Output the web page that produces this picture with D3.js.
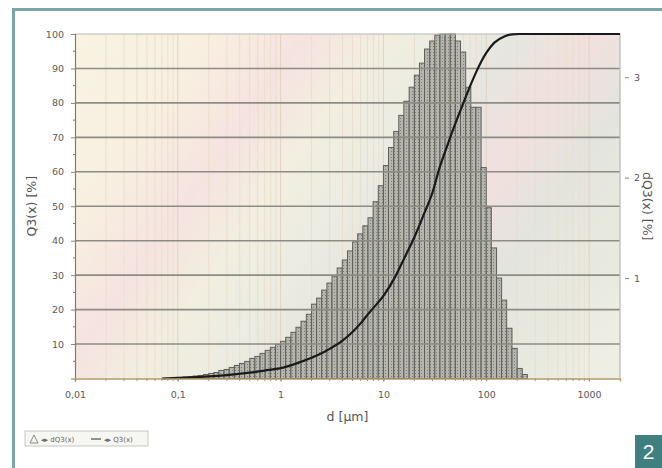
<!DOCTYPE html>
<html>
<head>
<meta charset="utf-8">
<script src="https://cdn.jsdelivr.net/npm/d3@7"></script>
<style>
  html, body { margin: 0; padding: 0; background: #fff; }
  svg { display: block; }
</style>
</head>
<body>
<svg id="chart" width="662" height="468"></svg>
<script>
// ── data ────────────────────────────────────────────────────────────────
// histogram bin edges (µm), log spaced
const binEdges = [
  0.100,0.112,0.126,0.141,0.158,0.178,0.200,0.224,0.251,0.282,0.316,0.355,0.398,0.447,0.501,0.562,0.631,0.708,0.794,0.891,
  1.00,1.12,1.26,1.41,1.58,1.78,2.00,2.24,2.51,2.82,3.16,3.55,3.98,4.47,5.01,5.62,6.31,7.08,7.94,8.91,
  10.0,11.2,12.6,14.1,15.8,17.8,20.0,22.4,25.1,28.2,31.6,35.5,39.8,44.7,50.1,56.2,63.1,70.8,79.4,89.1,
  100,112,126,141,158,178,200,224,251
];
// dQ3(x) per bin [%]
const dQ3 = [
  0.01,0.015,0.02,0.025,0.03,0.04,0.05,0.06,0.08,0.09,0.11,0.13,0.15,0.17,0.2,0.22,0.25,0.28,0.31,0.34,
  0.37,0.41,0.46,0.51,0.57,0.64,0.74,0.8,0.88,0.95,1.02,1.1,1.18,1.27,1.36,1.44,1.52,1.6,1.76,1.92,
  2.12,2.3,2.46,2.62,2.76,2.9,3.02,3.14,3.28,3.36,3.42,3.43,3.43,3.43,3.36,3.25,2.9,2.7,2.7,2.1,
  1.7,1.3,1.0,0.78,0.5,0.3,0.1,0.04
];
// cumulative Q3(x) curve
const q3Size  = [0.07,0.1,0.15,0.2,0.3,0.5,0.7,1,1.5,2,2.5,3,4,5,6,7,8,10,13,16,20,25,30,35,40,50,60,70,80,100,120,150,180,210,2000];
const q3Value = [0,0.2,0.4,0.6,1.0,1.7,2.3,3.0,4.6,6.0,7.3,8.6,11,13.5,16,18.5,20.5,24,29.5,35,41,48,54,61,66,74,80,85,89,94.5,97.5,99.3,99.9,100,100];

const xTicks      = [0.01, 0.1, 1, 10, 100, 1000];
const xTickLabels = ['0,01', '0,1', '1', '10', '100', '1000'];
const leftTicks   = [10, 20, 30, 40, 50, 60, 70, 80, 90, 100];
const rightTicks  = [1, 2, 3];

// ── layout ──────────────────────────────────────────────────────────────
const L = 75, R = 620, T = 34, B = 378.5;
const FONT = 'DejaVu Sans, sans-serif';
const TEAL = '#7aa6a5';

const svg = d3.select('#chart');

const x  = d3.scaleLog().domain([0.01, 2000]).range([L, R]);
const yL = d3.scaleLinear().domain([0, 100]).range([B, T]);
const yR = d3.scaleLinear().domain([0, 3.43]).range([B, T]);

const defs = svg.append('defs');

// pastel moiré-ish background
const bg = defs.append('linearGradient')
  .attr('id', 'bgGrad')
  .attr('gradientUnits', 'userSpaceOnUse')
  .attr('x1', 60).attr('y1', 60).attr('x2', 560).attr('y2', 420);
[
  [0.00, '#f8f3e2'], [0.18, '#f8efe0'], [0.30, '#f6e3e0'], [0.40, '#f2eee0'],
  [0.50, '#ecece2'], [0.58, '#e6e6e0'], [0.68, '#f1e0de'], [0.78, '#e4e4df'],
  [0.90, '#e8e9de'], [1.00, '#eeeee4']
].forEach(([o, c]) => bg.append('stop').attr('offset', o).attr('stop-color', c));

// dotted bar texture
const pat = defs.append('pattern')
  .attr('id', 'barPat')
  .attr('patternUnits', 'userSpaceOnUse')
  .attr('width', 3).attr('height', 3);
pat.append('rect').attr('width', 3).attr('height', 3).attr('fill', '#b6b6ae');
pat.append('rect').attr('x', 1).attr('y', 1).attr('width', 1).attr('height', 1).attr('fill', '#7e7e78');

// outer frame
svg.append('path')
  .attr('d', `M13.5,468 L13.5,9.5 L662,9.5`)
  .attr('fill', 'none')
  .attr('stroke', TEAL)
  .attr('stroke-width', 3);

// plot background
svg.append('rect')
  .attr('x', L).attr('y', T)
  .attr('width', R - L).attr('height', B - T)
  .attr('fill', 'url(#bgGrad)');

// vertical log grid (minor)
const minor = [];
for (let e = -2; e <= 3; e++) {
  for (let m = 1; m <= 9; m++) {
    const v = m * Math.pow(10, e);
    if (v > 0.01 && v < 2000) minor.push(v);
  }
}
svg.append('g')
  .selectAll('line')
  .data(minor)
  .join('line')
  .attr('x1', d => x(d)).attr('x2', d => x(d))
  .attr('y1', T).attr('y2', B)
  .attr('stroke', d => (Math.abs(Math.log10(d) % 1) < 1e-9) ? '#e0d2c2' : '#eadfcf')
  .attr('stroke-width', 1);

// histogram bars
const bins = dQ3.map((v, i) => ({ x0: binEdges[i], x1: binEdges[i + 1], v }));
svg.append('g')
  .selectAll('rect')
  .data(bins)
  .join('rect')
  .attr('x', d => x(d.x0))
  .attr('width', d => x(d.x1) - x(d.x0))
  .attr('y', d => yR(d.v))
  .attr('height', d => yR(0) - yR(d.v))
  .attr('fill', 'url(#barPat)')
  .attr('stroke', '#5e5e5a')
  .attr('stroke-width', 1);

// horizontal grid
svg.append('g')
  .selectAll('line')
  .data(leftTicks.filter(d => d < 100))
  .join('line')
  .attr('x1', L).attr('x2', R)
  .attr('y1', d => yL(d)).attr('y2', d => yL(d))
  .attr('stroke', '#8c8c84')
  .attr('stroke-width', 1.6);

// top + right frame of plot
svg.append('path')
  .attr('d', `M${L},${T} L${R},${T} L${R},${B}`)
  .attr('fill', 'none')
  .attr('stroke', '#b8b8b0')
  .attr('stroke-width', 1.2);

// Q3 curve
const line = d3.line()
  .x((d, i) => x(q3Size[i]))
  .y(d => yL(d))
  .curve(d3.curveMonotoneX);
svg.append('path')
  .datum(q3Value)
  .attr('d', line)
  .attr('fill', 'none')
  .attr('stroke', '#1a1a1a')
  .attr('stroke-width', 2.2);

// ── axes ────────────────────────────────────────────────────────────────
const leftAxis = d3.axisLeft(yL)
  .tickValues(leftTicks)
  .tickSize(4)
  .tickPadding(7);
const gL = svg.append('g')
  .attr('transform', `translate(${L},0)`)
  .call(leftAxis);
// minor ticks at 5s
gL.selectAll('.minor')
  .data(d3.range(5, 100, 10))
  .join('line')
  .attr('class', 'minor')
  .attr('x1', -2).attr('x2', 0)
  .attr('y1', d => yL(d)).attr('y2', d => yL(d))
  .attr('stroke', '#7c8260');

const bottomAxis = d3.axisBottom(x)
  .tickValues(xTicks)
  .tickFormat((d, i) => xTickLabels[i])
  .tickSize(3)
  .tickPadding(10);
const gB = svg.append('g')
  .attr('transform', `translate(0,${B})`)
  .call(bottomAxis);
gB.selectAll('.minor')
  .data(minor)
  .join('line')
  .attr('class', 'minor')
  .attr('x1', d => x(d)).attr('x2', d => x(d))
  .attr('y1', 0).attr('y2', 2.5)
  .attr('stroke', '#a89a70');

const rightAxis = d3.axisRight(yR)
  .tickValues(rightTicks)
  .tickFormat(d3.format('d'))
  .tickSize(4)
  .tickPadding(5);
const gR = svg.append('g')
  .attr('transform', `translate(${R + 5},0)`)
  .call(rightAxis);
gR.select('.domain').remove();

[gL, gB, gR].forEach(g => {
  g.selectAll('text')
    .attr('font-family', FONT)
    .attr('font-size', 9.5)
    .attr('fill', '#5a5a5a');
  g.selectAll('.tick line').attr('stroke', '#8a8a7a');
});
gL.select('.domain').attr('stroke', '#7c8260').attr('stroke-width', 1.2);
gB.select('.domain').attr('stroke', '#b09a6a').attr('stroke-width', 1.4);

// axis titles
svg.append('text')
  .attr('transform', `translate(36,${(T + B) / 2}) rotate(-90)`)
  .attr('text-anchor', 'middle')
  .attr('font-family', FONT)
  .attr('font-size', 12.5)
  .attr('fill', '#555')
  .text('Q3(x) [%]');

svg.append('text')
  .attr('transform', `translate(643,${(T + B) / 2}) rotate(90)`)
  .attr('text-anchor', 'middle')
  .attr('font-family', FONT)
  .attr('font-size', 12.5)
  .attr('fill', '#555')
  .text('dQ3(x) [%]');

svg.append('text')
  .attr('x', (L + R) / 2).attr('y', 421)
  .attr('text-anchor', 'middle')
  .attr('font-family', FONT)
  .attr('font-size', 12.5)
  .attr('fill', '#555')
  .text('d [µm]');

// ── legend ──────────────────────────────────────────────────────────────
const lg = svg.append('g').attr('transform', 'translate(25,431)');
lg.append('rect')
  .attr('width', 123).attr('height', 15)
  .attr('fill', '#f6f6f2')
  .attr('stroke', '#c8c8c0');
lg.append('path')
  .attr('d', 'M5,12 L9,4 L13,12 Z')
  .attr('fill', 'none')
  .attr('stroke', '#888');
lg.append('text')
  .attr('x', 16).attr('y', 10.5)
  .attr('font-family', FONT)
  .attr('font-size', 7)
  .attr('fill', '#666')
  .text('◂▸ dQ3(x)');
lg.append('line')
  .attr('x1', 66).attr('x2', 76).attr('y1', 8).attr('y2', 8)
  .attr('stroke', '#666').attr('stroke-width', 1.4);
lg.append('text')
  .attr('x', 79).attr('y', 10.5)
  .attr('font-family', FONT)
  .attr('font-size', 7)
  .attr('fill', '#666')
  .text('◂▸ Q3(x)');

// figure number badge
svg.append('rect')
  .attr('x', 635).attr('y', 435)
  .attr('width', 27).attr('height', 33)
  .attr('fill', '#3f7f80');
svg.append('text')
  .attr('x', 648.5).attr('y', 459)
  .attr('text-anchor', 'middle')
  .attr('font-family', 'Liberation Sans, Arial, sans-serif')
  .attr('font-size', 21)
  .attr('fill', '#fff')
  .text('2');
</script>
</body>
</html>
